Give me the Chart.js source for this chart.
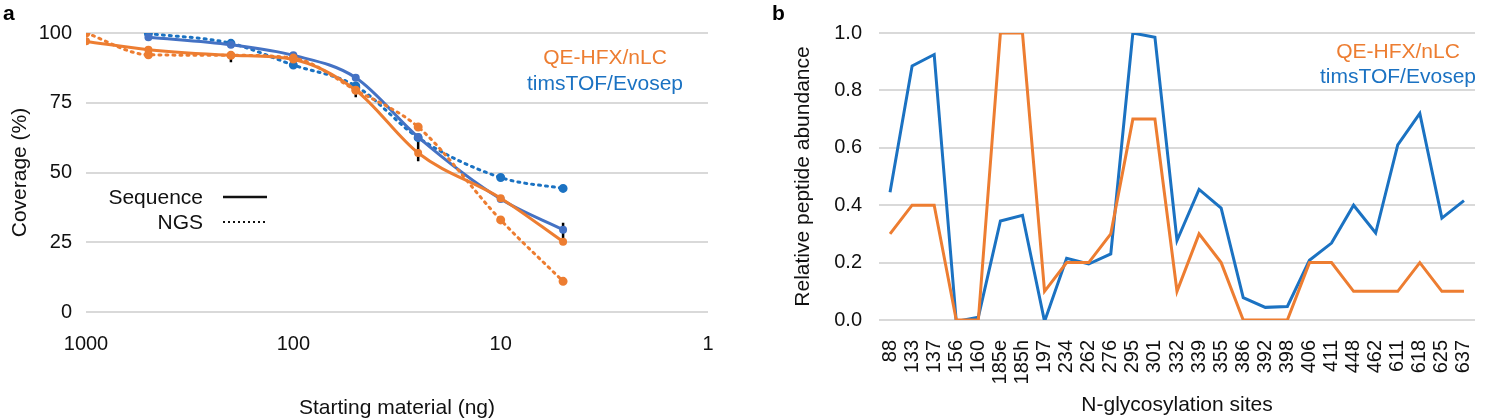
<!DOCTYPE html>
<html>
<head>
<meta charset="utf-8">
<script src="https://cdn.jsdelivr.net/npm/chart.js@4/dist/chart.umd.min.js"></script>
<style>
  body { margin: 0; background: #fff; width: 1500px; height: 419px; position: relative; overflow: hidden; }
  .panel { position: absolute; top: 0; height: 419px; }
  #wrapA { left: 0; width: 750px; }
  #wrapB { left: 760px; width: 740px; }
  .tag { position: absolute; font: bold 21px "Liberation Sans", Arial, sans-serif; }
</style>
</head>
<body>
<div class="panel" id="wrapA"><canvas id="chartA" width="750" height="419"></canvas></div>
<div class="panel" id="wrapB"><canvas id="chartB" width="740" height="419"></canvas></div>
<div class="tag" style="left:3px;top:1px">a</div>
<div class="tag" style="left:772px;top:1px">b</div>
<script>
// panel a : coverage vs starting material
const amounts = [1000, 500, 200, 100, 50, 25, 10, 5];
const qeSequence = [97, 94, 92, 90.5, 79.5, 57, 40.8, 25.2];
const qeNgs = [100, 92.2, 92, 91, 79.5, 66.3, 33, 11];
const timsAmounts = [500, 200, 100, 50, 25, 10, 5];
const timsSequence = [98.5, 95.8, 92, 84, 62.7, 40.5, 29.5];
const timsNgs = [99.8, 96.3, 88.5, 81, 62.5, 48.2, 44.3];
// error bars (low / high) on the sequence curves
const errAmounts = [200, 50, 25, 5];
const errLow = [89.5, 77, 54, 24.5];
const errHigh = [93, 80, 61, 32];
const axisTicksA = [1, 10, 100, 1000];

// panel b : relative peptide abundance per site
const sites = ["88", "133", "137", "156", "160", "185e", "185h", "197", "234", "262", "276", "295", "301", "332",
  "339", "355", "386", "392", "398", "406", "411", "448", "462", "611", "618", "625", "637"];
const qeAbundance = [0.3, 0.4, 0.4, 0.0, 0.0, 1.0, 1.0, 0.1, 0.2, 0.2, 0.3, 0.7, 0.7, 0.1,
  0.3, 0.2, 0.0, 0.0, 0.0, 0.2, 0.2, 0.1, 0.1, 0.1, 0.2, 0.1, 0.1];
const timsAbundance = [0.445, 0.885, 0.925, -0.005, 0.01, 0.345, 0.365, -0.005, 0.215, 0.195, 0.23, 1.0, 0.985, 0.277,
  0.455, 0.39, 0.078, 0.044, 0.047, 0.208, 0.268, 0.4, 0.303, 0.61, 0.72, 0.355, 0.416];

const ORANGE = "#ED7D31";
const BLUE_A = "#4472C4";
const BLUE = "#1B72C2";
const FONT = '"Liberation Sans", Arial, sans-serif';
const GRID = "#d9d9d9";

Chart.defaults.font.family = FONT;
Chart.defaults.color = "#111";

function pairs(xs, ys) {
  return xs.map((x, i) => ({ x: x, y: ys[i] }));
}

function errorData() {
  const out = [];
  errAmounts.forEach((x, i) => {
    out.push({ x: x, y: errLow[i] });
    out.push({ x: x, y: errHigh[i] });
    out.push({ x: x, y: null });
  });
  return out;
}

// text drawn on top of the chart (series names and line-style key)
const notesA = {
  id: "notesA",
  afterDraw(chart) {
    const ctx = chart.ctx;
    ctx.save();
    ctx.font = "21px " + FONT;
    ctx.textBaseline = "middle";
    ctx.textAlign = "center";
    ctx.fillStyle = ORANGE;
    ctx.fillText("QE-HFX/nLC", 605, 58);
    ctx.fillStyle = BLUE;
    ctx.fillText("timsTOF/Evosep", 605, 84);
    ctx.textAlign = "right";
    ctx.fillStyle = "#111";
    ctx.fillText("Sequence", 203, 198);
    ctx.fillText("NGS", 203, 223);
    ctx.strokeStyle = "#111";
    ctx.lineWidth = 2.5;
    ctx.beginPath();
    ctx.moveTo(223, 197);
    ctx.lineTo(267, 197);
    ctx.stroke();
    ctx.lineWidth = 2;
    ctx.setLineDash([2, 3]);
    ctx.beginPath();
    ctx.moveTo(223, 222);
    ctx.lineTo(267, 222);
    ctx.stroke();
    ctx.restore();
  }
};

const notesB = {
  id: "notesB",
  afterDraw(chart) {
    const ctx = chart.ctx;
    ctx.save();
    ctx.font = "21px " + FONT;
    ctx.textBaseline = "middle";
    ctx.textAlign = "center";
    ctx.fillStyle = ORANGE;
    ctx.fillText("QE-HFX/nLC", 638, 52);
    ctx.fillStyle = BLUE;
    ctx.fillText("timsTOF/Evosep", 638, 77);
    ctx.restore();
  }
};

new Chart(document.getElementById("chartA"), {
  type: "scatter",
  data: {
    datasets: [
      { data: pairs(amounts, qeSequence), showLine: true, borderColor: ORANGE, backgroundColor: ORANGE,
        borderWidth: 3, cubicInterpolationMode: "monotone", pointRadius: 2.5 },
      { data: pairs(amounts, qeNgs), showLine: true, borderColor: ORANGE, backgroundColor: ORANGE,
        borderWidth: 3, borderDash: [2, 5], borderCapStyle: "round", cubicInterpolationMode: "monotone", pointRadius: 3 },
      { data: pairs(timsAmounts, timsSequence), showLine: true, borderColor: BLUE_A, backgroundColor: BLUE_A,
        borderWidth: 3, cubicInterpolationMode: "monotone", pointRadius: 2.5 },
      { data: pairs(timsAmounts, timsNgs), showLine: true, borderColor: BLUE, backgroundColor: BLUE,
        borderWidth: 3, borderDash: [2, 5], borderCapStyle: "round", cubicInterpolationMode: "monotone", pointRadius: 3 },
      { data: errorData(), showLine: true, spanGaps: false, borderColor: "#000", borderWidth: 2.5,
        pointRadius: 0, tension: 0 }
    ]
  },
  options: {
    responsive: false,
    animation: false,
    layout: { padding: { left: 0, top: 33, right: 42, bottom: 0 } },
    plugins: { legend: { display: false }, tooltip: { enabled: false } },
    scales: {
      x: {
        type: "logarithmic",
        reverse: true,
        min: 1,
        max: 1000,
        afterBuildTicks: (s) => { s.ticks = axisTicksA.map((v) => ({ value: v })); },
        afterFit: (s) => { s.height = 107; },
        grid: { display: false },
        border: { display: false },
        ticks: { font: { size: 20 }, color: "#111", padding: 12, maxRotation: 0,
          callback: (v) => String(v) },
        title: { display: true, text: "Starting material (ng)", font: { size: 21, lineHeight: 1 }, color: "#111",
          padding: { top: 0, bottom: 0 } }
      },
      y: {
        min: 0,
        max: 100,
        afterFit: (s) => { s.width = 86; },
        grid: { color: GRID, lineWidth: 2, drawTicks: false },
        border: { display: false },
        ticks: { stepSize: 25, font: { size: 20 }, color: "#111", padding: 14 },
        title: { display: true, text: "Coverage (%)", font: { size: 21 }, color: "#111",
          padding: { top: 8, bottom: 0 } }
      }
    }
  },
  plugins: [notesA]
});

new Chart(document.getElementById("chartB"), {
  type: "line",
  data: {
    labels: sites,
    datasets: [
      { data: qeAbundance, borderColor: ORANGE, borderWidth: 3, pointRadius: 0, tension: 0 },
      { data: timsAbundance, borderColor: BLUE, borderWidth: 3, pointRadius: 0, tension: 0 }
    ]
  },
  options: {
    responsive: false,
    animation: false,
    layout: { padding: { left: 0, top: 33, right: 2, bottom: 0 } },
    plugins: { legend: { display: false }, tooltip: { enabled: false } },
    scales: {
      x: {
        offset: true,
        afterFit: (s) => { s.height = 99; },
        grid: { display: false },
        border: { display: false },
        ticks: { font: { size: 20 }, color: "#111", padding: 12, autoSkip: false,
          minRotation: 90, maxRotation: 90 },
        title: { display: true, text: "N-glycosylation sites", font: { size: 21, lineHeight: 1 }, color: "#111",
          padding: { top: 0, bottom: 3 } }
      },
      y: {
        min: 0,
        max: 1,
        afterFit: (s) => { s.width = 119; },
        grid: { color: GRID, lineWidth: 2, drawTicks: false },
        border: { display: false },
        ticks: { stepSize: 0.2, font: { size: 20 }, color: "#111", padding: 17,
          callback: (v) => Number(v).toFixed(1) },
        title: { display: true, text: "Relative peptide abundance", font: { size: 21 }, color: "#111",
          padding: { top: 31, bottom: 0 } }
      }
    }
  },
  plugins: [notesB]
});
</script>
</body>
</html>
